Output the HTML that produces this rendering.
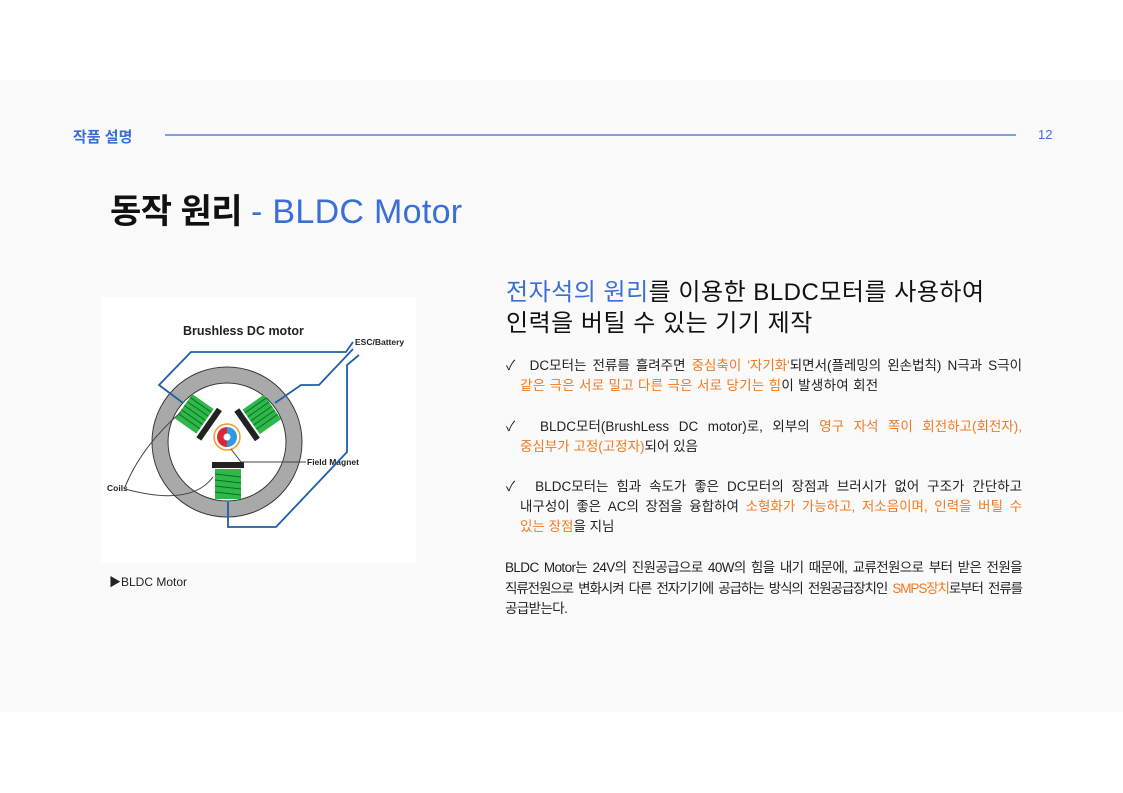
<!DOCTYPE html>
<html><head><meta charset="utf-8"><style>
body{margin:0;width:1123px;height:793px;background:#fff;position:relative;overflow:hidden;font-family:"Liberation Sans","Noto Sans CJK KR",sans-serif;}
.panel{position:absolute;left:0;top:80px;width:1123px;height:632px;background:#fafafa;}
.a{position:absolute;white-space:nowrap;}
.o{color:#f07a22;}
.b{color:#3a6fd8;}
.l{position:absolute;font-size:13.5px;color:#222;white-space:nowrap;height:20px;line-height:20px;}
.j{text-align:justify;text-align-last:justify;}
.p{letter-spacing:-0.6px;}
</style></head><body>
<div class="panel"></div>
<div class="a b" style="left:73px;top:126px;font-size:15px;font-weight:bold;">작품 설명</div>
<div class="a" style="left:165px;top:134px;width:851px;height:1.5px;background:#7f9fe0;"></div>
<div class="a b" style="left:1038px;top:127px;font-size:13px;">12</div>
<div class="a" style="left:110px;top:184px;font-size:34px;font-weight:bold;color:#111;letter-spacing:-0.5px;">동작 원리 <span class="b" style="font-weight:normal;letter-spacing:0.3px">- BLDC Motor</span></div>

<div class="a" style="left:101px;top:297px;width:315px;height:266px;background:#fff;"></div>
<svg class="a" style="left:101px;top:297px" width="315" height="266" viewBox="0 0 315 266">
<text x="82" y="38" font-family="Liberation Sans" font-weight="bold" font-size="12.5" fill="#222">Brushless DC motor</text>
<text x="254" y="48" font-family="Liberation Sans" font-weight="bold" font-size="8.5" fill="#222">ESC/Battery</text>
<text x="206" y="168" font-family="Liberation Sans" font-weight="bold" font-size="8.5" fill="#222">Field Magnet</text>
<text x="6" y="194" font-family="Liberation Sans" font-weight="bold" font-size="8.5" fill="#222">Coils</text>
<circle cx="126" cy="145" r="67" fill="none" stroke="#a9a9a9" stroke-width="15"/>
<circle cx="126" cy="145" r="75" fill="none" stroke="#333" stroke-width="1"/>
<circle cx="126" cy="145" r="59" fill="none" stroke="#333" stroke-width="1"/>
<g fill="none" stroke="#1f5fa8" stroke-width="1.8">
<polyline points="82,106 58,88 90,55 245,55 252,45"/>
<polyline points="174,106 200,88 218,88 252,52"/>
<polyline points="258,58 246,68 246,155 175,230 127,230 127,205"/>
</g>
<g transform="rotate(35 95 118)"><rect x="80" y="103" width="26" height="30" fill="#2eb84a"/><g stroke="#0d6e25" stroke-width="1"><line x1="80" y1="107" x2="106" y2="107"/><line x1="80" y1="112" x2="106" y2="112"/><line x1="80" y1="117" x2="106" y2="117"/><line x1="80" y1="122" x2="106" y2="122"/><line x1="80" y1="127" x2="106" y2="127"/></g><rect x="108" y="100" width="6" height="36" fill="#222"/></g>
<g transform="rotate(-35 160 118)"><rect x="148" y="103" width="26" height="30" fill="#2eb84a"/><g stroke="#0d6e25" stroke-width="1"><line x1="148" y1="107" x2="174" y2="107"/><line x1="148" y1="112" x2="174" y2="112"/><line x1="148" y1="117" x2="174" y2="117"/><line x1="148" y1="122" x2="174" y2="122"/><line x1="148" y1="127" x2="174" y2="127"/></g><rect x="140" y="100" width="6" height="36" fill="#222"/></g>
<rect x="111" y="165" width="32" height="6" fill="#222"/>
<rect x="114" y="172" width="26" height="30" fill="#2eb84a"/>
<g stroke="#0d6e25" stroke-width="1"><line x1="114" y1="177" x2="140" y2="180"/><line x1="114" y1="183" x2="140" y2="186"/><line x1="114" y1="189" x2="140" y2="192"/><line x1="114" y1="195" x2="140" y2="198"/></g>
<circle cx="126" cy="140" r="13" fill="none" stroke="#f39a2c" stroke-width="1.5"/>
<path d="M126 130 A10 10 0 0 0 126 150 Z" fill="#d8283a"/>
<path d="M126 130 A10 10 0 0 1 126 150 Z" fill="#2c9be0"/>
<circle cx="126" cy="140" r="3.5" fill="#fff"/>
<g fill="none" stroke="#444" stroke-width="1"><polyline points="130,152 140,165 205,165"/><path d="M24 190 Q40 150 80 115"/><path d="M24 192 Q90 210 112 180"/></g>
</svg>
<div class="a" style="left:109px;top:573px;font-size:12px;color:#222;">▶BLDC Motor</div>

<div class="a" style="left:506px;top:277px;font-size:24px;color:#111;line-height:31px;letter-spacing:0.5px;"><span class="b">전자석의 원리</span>를 이용한 BLDC모터를 사용하여<br>인력을 버틸 수 있는 기기 제작</div>

<div class="l j" style="left:506px;top:356px;width:516px;">✓&nbsp; DC모터는 전류를 흘려주면 <span class="o">중심축이 '자기화'</span>되면서(플레밍의 왼손법칙) N극과 S극이</div>
<div class="l" style="left:520px;top:376px;letter-spacing:0.3px;"><span class="o">같은 극은 서로 밀고 다른 극은 서로 당기는 힘</span>이 발생하여 회전</div>
<div class="l j" style="left:506px;top:417px;width:516px;">✓&nbsp; BLDC모터(BrushLess DC motor)로, 외부의 <span class="o">영구 자석 쪽이 회전하고(회전자),</span></div>
<div class="l" style="left:520px;top:437px;"><span class="o">중심부가 고정(고정자)</span>되어 있음</div>
<div class="l j" style="left:506px;top:477px;width:516px;">✓&nbsp; BLDC모터는 힘과 속도가 좋은 DC모터의 장점과 브러시가 없어 구조가 간단하고</div>
<div class="l j" style="left:520px;top:497px;width:502px;">내구성이 좋은 AC의 장점을 융합하여 <span class="o">소형화가 가능하고, 저소음이며, 인력을 버틸 수</span></div>
<div class="l" style="left:520px;top:517px;"><span class="o">있는 장점</span>을 지님</div>
<div class="l j p" style="left:505px;top:558px;width:517px;">BLDC Motor는 24V의 진원공급으로 40W의 힘을 내기 때문에, 교류전원으로 부터 받은 전원을</div>
<div class="l j p" style="left:505px;top:579px;width:517px;letter-spacing:-1.1px;">직류전원으로 변화시켜 다른 전자기기에 공급하는 방식의 전원공급장치인 <span class="o">SMPS장치</span>로부터 전류를</div>
<div class="l p" style="left:505px;top:599px;">공급받는다.</div>
</body></html>
